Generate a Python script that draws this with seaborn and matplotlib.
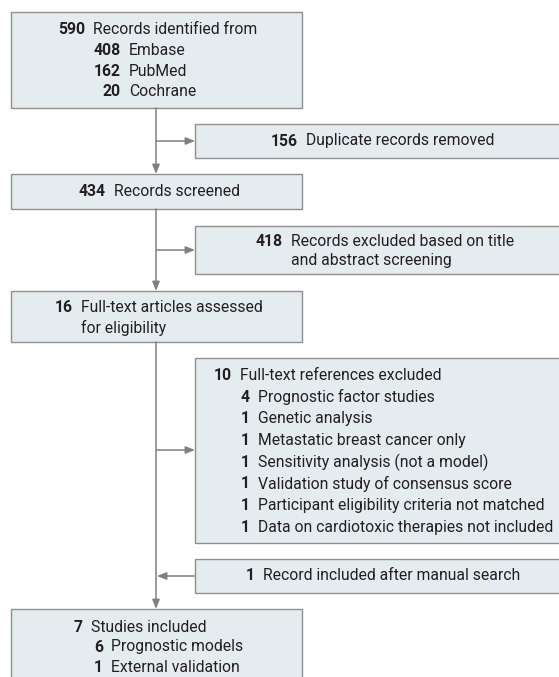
import matplotlib
matplotlib.use('Agg')
import matplotlib.pyplot as plt
from matplotlib.patches import Rectangle
import seaborn as sns

# flow counts and labels
identified_n = 590
identified_lbl = 'Records identified from'
source_n = [408, 162, 20]
source_lbl = ['Embase', 'PubMed', 'Cochrane']
duplicates_n = 156
duplicates_lbl = 'Duplicate records removed'
screened_n = 434
screened_lbl = 'Records screened'
title_excl_n = 418
title_excl_lbl = ['Records excluded based on title', 'and abstract screening']
fulltext_n = 16
fulltext_lbl = ['Full-text articles assessed', 'for eligibility']
ft_excl_n = 10
ft_excl_lbl = 'Full-text references excluded'
reason_n = [4, 1, 1, 1, 1, 1, 1]
reason_lbl = ['Prognostic factor studies', 'Genetic analysis',
              'Metastatic breast cancer only', 'Sensitivity analysis (not a model)',
              'Validation study of consensus score',
              'Participant eligibility criteria not matched',
              'Data on cardiotoxic therapies not included']
manual_n = 1
manual_lbl = 'Record included after manual search'
included_n = 7
included_lbl = 'Studies included'
type_n = [6, 1]
type_lbl = ['Prognostic models', 'External validation']

sns.set_theme(style='white')
plt.rcParams['font.family'] = ['Roboto', 'DejaVu Sans']

FILL = '#e5ecf0'
EDGE = '#8f8f8f'
LINE = '#808080'
TXT = '#231f20'
FS = 11.3

fig = plt.figure(figsize=(5.59, 6.77), dpi=100)
ax = fig.add_axes([0, 0, 1, 1])
ax.set_xlim(0, 559)
ax.set_ylim(677, 0)
ax.axis('off')


def box(x0, y0, x1, y1):
    ax.add_patch(Rectangle((x0, y0), x1 - x0, y1 - y0, facecolor=FILL,
                           edgecolor=EDGE, lw=1.0))


def entry(xn, y, n, lines, dy=20.5):
    ax.text(xn, y, str(n), ha='right', va='center', fontsize=FS,
            fontweight='bold', color=TXT)
    if isinstance(lines, str):
        lines = [lines]
    for i, s in enumerate(lines):
        ax.text(xn + 8, y + i * dy, s, ha='left', va='center', fontsize=FS,
                color=TXT)


def arrow(x0, y0, x1, y1):
    ax.annotate('', xy=(x1, y1), xytext=(x0, y0),
                arrowprops=dict(arrowstyle='-|>,head_length=0.55,head_width=0.22',
                                color=LINE, lw=1.1,
                                mutation_scale=10, shrinkA=0, shrinkB=0))


# boxes
box(11, 12, 302, 108)
box(195, 124, 562, 158)
box(11, 174, 302, 209)
box(195, 226, 562, 274)
box(11, 291, 302, 342)
box(195, 358, 562, 543)
box(195, 559, 562, 593)
box(11, 609, 302, 700)

# connectors
xv = 156
arrow(xv, 108, xv, 174)
arrow(xv, 141, 195, 141)
arrow(xv, 209, xv, 291)
arrow(xv, 250, 195, 250)
arrow(xv, 342, xv, 609)
arrow(xv, 450, 195, 450)
arrow(195, 576, xv + 1, 576)

# texts
entry(85, 30, identified_n, identified_lbl)
for i, (n, s) in enumerate(zip(source_n, source_lbl)):
    entry(121, 50.5 + i * 20.7, n, s)
entry(298, 141, duplicates_n, duplicates_lbl)
entry(106, 192, screened_n, screened_lbl)
entry(283, 241, title_excl_n, title_excl_lbl, dy=20)
entry(73, 308, fulltext_n, fulltext_lbl, dy=19.5)
entry(232, 375, ft_excl_n, ft_excl_lbl)
for i, (n, s) in enumerate(zip(reason_n, reason_lbl)):
    entry(250, 397 + i * 21.7, n, s)
entry(255, 576, manual_n, manual_lbl)
entry(83, 627, included_n, included_lbl)
for i, (n, s) in enumerate(zip(type_n, type_lbl)):
    entry(103, 647 + i * 20, n, s)

fig.savefig('out.png', dpi=100)
